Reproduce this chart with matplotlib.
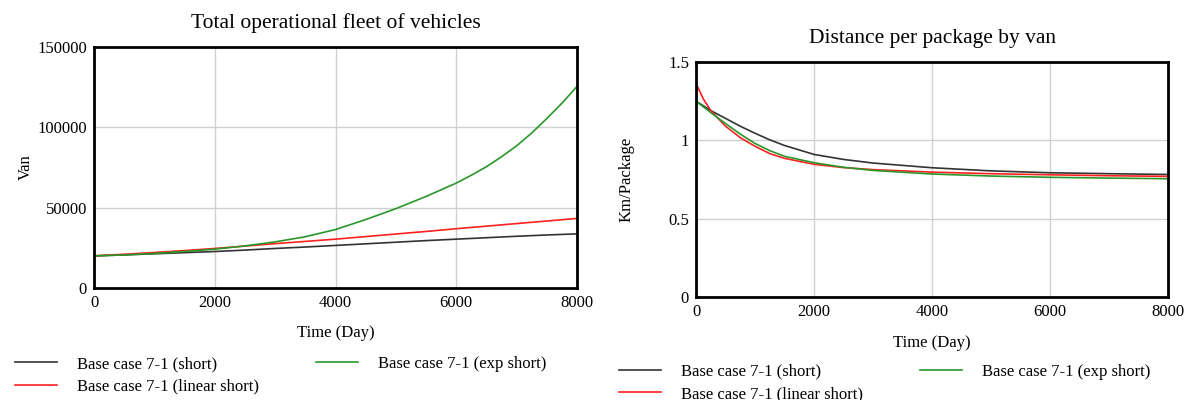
import matplotlib
matplotlib.use('Agg')
import matplotlib.pyplot as plt
from matplotlib.ticker import FuncFormatter

plt.rcParams['font.family'] = ['Liberation Serif', 'DejaVu Serif']

# --- left panel: Total operational fleet of vehicles (Van) ---
fleet_t = [0, 500, 1000, 1500, 2000, 2500, 3000, 3500, 4000, 4500, 5000,
           5500, 6000, 6500, 7000, 7500, 8000]
fleet_short = [20000, 20600, 21300, 22000, 22700, 23600, 24600, 25500, 26500,
               27500, 28500, 29500, 30400, 31300, 32200, 33000, 33700]
fleet_linear = [20000, 21000, 22100, 23300, 24600, 26100, 27600, 29000, 30400,
                32000, 33600, 35200, 36900, 38500, 40100, 41700, 43300]
fleet_exp_t = [0, 500, 1000, 1500, 2000, 2500, 3000, 3500, 4000, 4500, 5000,
               5500, 6000, 6250, 6500, 6750, 7000, 7250, 7500, 7750, 8000]
fleet_exp = [20000, 20600, 21500, 22700, 24200, 26200, 28700, 31900, 36400,
             42600, 49400, 57000, 65300, 70200, 75500, 81700, 88500, 96500,
             105500, 115000, 125500]

# --- right panel: Distance per package by van (Km/Package) ---
dist_t = [0, 250, 500, 750, 1000, 1250, 1500, 2000, 2500, 3000, 4000, 5000,
          6000, 7000, 8000]
dist_short = [1.25, 1.19, 1.14, 1.09, 1.045, 1.003, 0.967, 0.91, 0.878, 0.855,
              0.825, 0.805, 0.793, 0.787, 0.782]
dist_exp = [1.25, 1.177, 1.107, 1.04, 0.98, 0.934, 0.898, 0.857, 0.828, 0.808,
            0.785, 0.772, 0.764, 0.759, 0.755]
dist_lin_t = [0, 20, 130, 250, 500, 750, 1000, 1250, 1500, 2000, 2500, 3000,
              4000, 5000, 6000, 7000, 8000]
dist_linear = [1.25, 1.347, 1.26, 1.19, 1.09, 1.017, 0.962, 0.915, 0.885, 0.847,
               0.826, 0.813, 0.797, 0.787, 0.78, 0.774, 0.77]

labels = ['Base case 7-1 (short)', 'Base case 7-1 (linear short)',
          'Base case 7-1 (exp short)']
colors = ['#333333', '#ff2020', '#2a962a']


def style_axes(ax, title, ylabel, xlab_y, ylab_x, leg_y):
    ax.set_title(title, fontsize=15.5, pad=14)
    ax.set_xlabel('Time (Day)', fontsize=12)
    ax.set_ylabel(ylabel, fontsize=12)
    ax.xaxis.set_label_coords(0.5, xlab_y)
    ax.yaxis.set_label_coords(ylab_x, 0.5)
    ax.set_xlim(0, 8000)
    ax.set_xticks([0, 2000, 4000, 6000, 8000])
    ax.grid(True, color='#d0d0d0', linewidth=1)
    ax.set_axisbelow(True)
    ax.tick_params(length=0, labelsize=12, pad=5)
    for s in ax.spines.values():
        s.set_linewidth(2)
        s.set_color('black')
    ax.yaxis.set_major_formatter(FuncFormatter(lambda v, p: '%g' % v))
    ax.legend(loc='upper left', bbox_to_anchor=(-0.178, leg_y), ncol=2,
              frameon=False, fontsize=12, handlelength=2.55, handletextpad=1.2,
              columnspacing=3.4, labelspacing=0.38, borderaxespad=0)


fig = plt.figure(figsize=(11.89, 4), dpi=100)

ax1 = fig.add_axes([0.0791, 0.28, 0.4062, 0.6025])
ax1.plot(fleet_t, fleet_short, color=colors[0], lw=1.2, label=labels[0])
ax1.plot(fleet_t, fleet_linear, color=colors[1], lw=1.2, label=labels[1])
ax1.plot(fleet_exp_t, fleet_exp, color=colors[2], lw=1.2, label=labels[2])
ax1.set_ylim(0, 150000)
ax1.set_yticks([0, 50000, 100000, 150000])
style_axes(ax1, 'Total operational fleet of vehicles', 'Van', -0.155, -0.124,
           -0.255)

ax2 = fig.add_axes([0.5854, 0.2575, 0.397, 0.5875])
ax2.plot(dist_t, dist_short, color=colors[0], lw=1.2, label=labels[0])
ax2.plot(dist_lin_t, dist_linear, color=colors[1], lw=1.2, label=labels[1])
ax2.plot(dist_t, dist_exp, color=colors[2], lw=1.2, label=labels[2])
ax2.set_ylim(0, 1.5)
ax2.set_yticks([0, 0.5, 1, 1.5])
style_axes(ax2, 'Distance per package by van', 'Km/Package', -0.16, -0.13,
           -0.255)

fig.savefig('out.png', dpi=100)
